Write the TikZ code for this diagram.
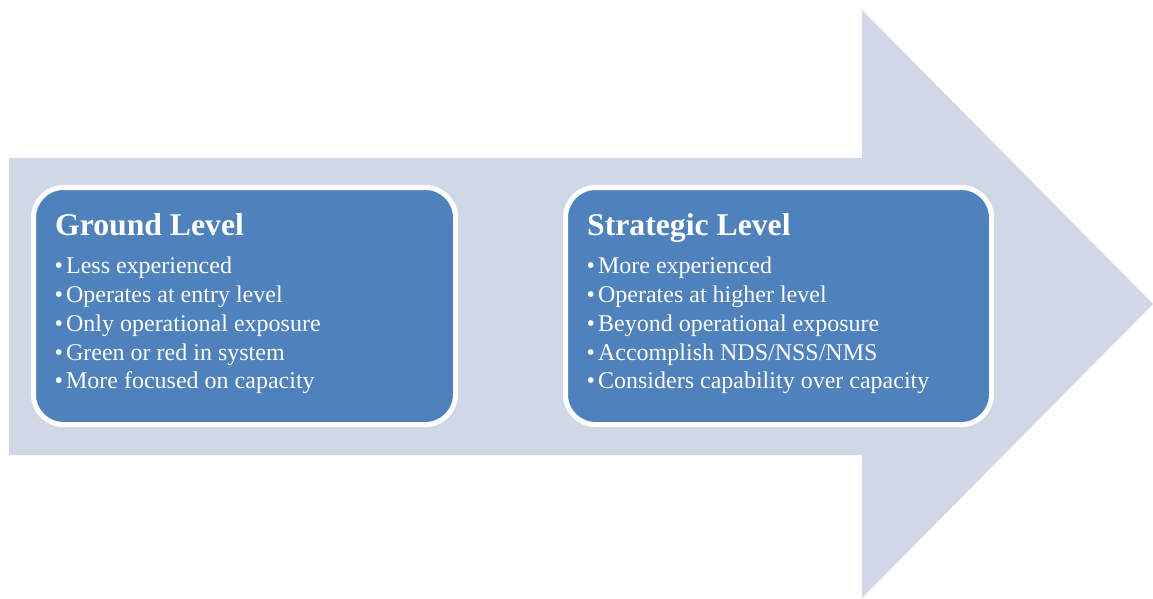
\documentclass[tikz,border=0pt]{standalone}
\usepackage{fontspec}
\setmainfont{Liberation Serif}
\definecolor{arrowfill}{HTML}{D0D8E8}
\definecolor{boxfill}{HTML}{4F81BD}
\newcommand{\itembullet}{•\hspace{3pt}}
\begin{document}
\begin{tikzpicture}[x=1pt,y=-1pt,
  levelbox/.style={draw=white, line width=5pt, fill=boxfill, rounded corners=30pt,
    outer sep=0pt, inner sep=0pt, minimum height=237pt},
  leveltitle/.style={anchor=base west, inner sep=0pt, text=white,
    font=\fontsize{31.7}{31.7}\selectfont\bfseries},
  levelitem/.style={anchor=base west, inner sep=0pt, text=white,
    font=\fontsize{24}{28}\selectfont}]
\useasboundingbox (0,0) rectangle (1153,598);
% big background arrow
\fill[arrowfill] (9,158) -- (862,158) -- (862,10) -- (1153,304)
  -- (862,598) -- (862,455) -- (9,455) -- cycle;
% the two level boxes
\node[levelbox, minimum width=422pt] (ground) at (244.5,306) {};
\node[levelbox, minimum width=426pt] (strategic) at (778.5,306) {};
% ground level text
\node[leveltitle] (gt) at (55,235) {Ground Level};
\node[levelitem] (g1) at (54.5,273) {\itembullet Less experienced};
\node[levelitem] (g2) at (54.5,302) {\itembullet Operates at entry level};
\node[levelitem] (g3) at (54.5,331) {\itembullet Only operational exposure};
\node[levelitem] (g4) at (54.5,360) {\itembullet Green or red in system};
\node[levelitem] (g5) at (54.5,388) {\itembullet More focused on capacity};
% strategic level text
\node[leveltitle] (st) at (587,235) {Strategic Level};
\node[levelitem] (s1) at (586.5,273) {\itembullet More experienced};
\node[levelitem] (s2) at (586.5,302) {\itembullet Operates at higher level};
\node[levelitem] (s3) at (586.5,331) {\itembullet Beyond operational exposure};
\node[levelitem] (s4) at (586.5,360) {\itembullet Accomplish NDS/NSS/NMS};
\node[levelitem] (s5) at (586.5,388) {\itembullet Considers capability over capacity};
\end{tikzpicture}
\end{document}
